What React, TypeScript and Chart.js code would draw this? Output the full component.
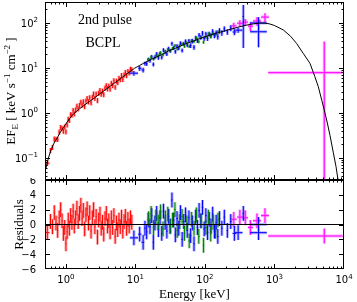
import React, { useEffect, useRef } from 'react';
import { Chart, registerables } from 'chart.js';
Chart.register(...registerables);

// ---------- axis ranges / tick labels ----------
const X_MIN = 0.5, X_MAX = 10000;
const Y_MIN = 0.0325, Y_MAX = 293;
const R_MIN = -6, R_MAX = 6;
const xMajor = [1, 10, 100, 1000, 10000];
const xMajorExp = ['0', '1', '2', '3', '4'];
const yMajor = [0.1, 1, 10, 100];
const yMajorExp = ['\u22121', '0', '1', '2'];
const resTicks = [-6, -4, -2, 0, 2, 4, 6];
const resTickLabels = ['\u22126', '\u22124', '\u22122', '0', '2', '4', '6'];

// ---------- model (BCPL) ----------
const modelE = [0.5, 0.53, 0.56, 0.6, 0.65, 0.7, 0.76, 0.8, 0.88, 0.96, 1.04, 1.12, 1.22, 1.32, 1.44, 1.57, 1.71, 1.86, 2.02, 2.2, 2.4, 2.61, 2.84, 3.09, 3.36, 3.65, 3.97, 4.32, 4.7, 5.11, 5.56, 6.05, 6.58, 7.16, 7.79, 8.48, 9.2, 9.7, 10.5, 11.5, 13, 15.5, 17.1, 20, 23.9, 30, 37.5, 50, 70, 100, 150, 200, 300, 400, 500, 620, 750, 860, 1000, 1340, 1700, 2085, 2600, 3240, 3800, 4270, 4800, 5330, 5800, 6290, 7000, 7670, 8280, 9000];
const modelF = [0.05, 0.07, 0.1, 0.14, 0.19, 0.24, 0.29, 0.34, 0.43, 0.52, 0.63, 0.74, 0.87, 0.99, 1.11, 1.24, 1.37, 1.51, 1.66, 1.82, 2.01, 2.21, 2.44, 2.69, 2.96, 3.25, 3.57, 3.93, 4.33, 4.76, 5.24, 5.77, 6.35, 6.98, 7.68, 8.45, 9.28, 9.86, 10.55, 11.4, 12.7, 14.6, 15.7, 17.5, 19.9, 24.0, 27.4, 33.4, 40.4, 49.6, 60, 68, 81, 90, 96, 100, 99, 95, 88, 70, 51, 35, 21, 12.7, 6.5, 3.84, 1.9, 1.0, 0.57, 0.317, 0.135, 0.065, 0.03, 0.013];

// ---------- red (soft X-ray) ----------
const redE = [0.54, 0.60, 0.64, 0.68, 0.72, 0.76, 0.80, 0.84, 0.88, 0.92, 0.96, 1.00, 1.04, 1.08, 1.12, 1.17, 1.22, 1.27, 1.32, 1.38, 1.44, 1.50, 1.57, 1.64, 1.71, 1.78, 1.86, 1.94, 2.02, 2.11, 2.20, 2.30, 2.40, 2.50, 2.61, 2.72, 2.84, 2.96, 3.09, 3.22, 3.36, 3.50, 3.65, 3.81, 3.97, 4.14, 4.32, 4.50, 4.70, 4.90, 5.11, 5.33, 5.56, 5.80, 6.05, 6.31, 6.58, 6.86, 7.16, 7.47, 7.79, 8.13, 8.48, 8.85];
const redF = [0.077, 0.147, 0.173, 0.266, 0.262, 0.26, 0.38, 0.479, 0.458, 0.397, 0.493, 0.384, 0.548, 0.733, 0.692, 0.925, 0.904, 1.148, 0.964, 1.173, 1.427, 1.241, 1.482, 1.753, 1.512, 1.796, 1.392, 1.847, 2.113, 1.785, 2.199, 1.695, 2.245, 2.659, 2.124, 2.652, 1.901, 2.760, 3.180, 2.637, 3.075, 2.576, 3.588, 4.075, 3.477, 3.983, 3.419, 4.602, 4.105, 5.248, 3.770, 5.13, 4.763, 5.929, 5.545, 6.837, 5.607, 6.996, 7.978, 6.844, 8.379, 7.841, 9.439, 9.195];
const redRes = [-1.1, 0.4, -0.3, 1.6, 0.2, -0.8, 0.9, 2.0, 0.5, -1.2, -0.4, -2.6, -1.0, 0.6, -0.5, 1.2, 0.3, 1.8, -0.2, 0.9, 2.2, 0.4, 1.5, 2.6, 0.8, 1.9, -0.6, 1.3, 2.1, 0.2, 1.6, -0.9, 0.9, 2.0, -0.3, 1.1, -1.7, 0.6, 1.4, -0.5, 0.3, -1.3, 0.8, 1.5, -0.2, 0.5, -1.0, 0.9, -0.4, 1.2, -1.6, 0.2, -0.7, 0.6, -0.3, 1.0, -0.9, 0.4, 1.1, -0.5, 0.7, -0.2, 0.9, 0.3];
const redRelErr = 0.13;
const redBinFrac = 0.018;
const redWide: Record<number, [number, number]> = { 0: [0.51, 0.58] };

// ---------- green ----------
const greenE = [15.5, 16.8, 18.2, 19.7, 21.3, 23.0, 24.9, 27.0, 29.2, 31.6, 34.2, 37.0, 40.0, 43.3, 46.9, 50.7, 54.9, 59.4, 64.3, 69.6, 75.3, 81.5, 88.2, 95.4, 103, 112, 121, 131, 142, 154];
const greenF = [15.53, 17.36, 15.88, 18.68, 18.74, 21.92, 19.61, 23.48, 25.91, 24.20, 27.14, 31.55, 26.58, 30.86, 34.27, 30.37, 35.76, 30.32, 40.66, 38.78, 46.59, 38.37, 47.84, 37.48, 48.69, 56.70, 49.01, 58.16, 54.57, 63.61];
const greenRes = [0.8, 1.5, -0.4, 1.0, 0.3, 1.7, -0.6, 0.9, 1.4, -0.3, 0.6, 2.0, -0.8, 0.4, 1.1, -1.2, 0.2, -2.2, 0.7, -0.5, 1.3, -1.6, 0.5, -2.8, -0.4, 1.0, -1.3, 0.3, -0.9, 0.6];
const greenRelErr = 0.08;
const greenBinFrac = 0.025;

// ---------- blue ----------
const blueE = [9.5, 11.5, 12.9, 13.7, 14.5, 15.3, 16.2, 17.1, 18.1, 19.1, 20.2, 21.4, 22.6, 23.9, 25.3, 26.8, 28.3, 30.0, 31.7, 33.5, 35.5, 37.5, 39.7, 42.0, 44.4, 47.0, 49.7, 52.6, 55.6, 58.8, 62.2, 65.8, 69.6, 73.6, 77.9, 82.4, 87.1, 92.2, 97.5, 103, 109, 115, 122, 129, 137, 145, 153, 162, 175, 190, 210, 235, 265, 300, 356, 590, 590];
const blueF = [7.68, 9.87, 9.04, 12.57, 12.37, 15.46, 14.60, 17.77, 12.07, 17.37, 20.50, 16.98, 20.99, 17.27, 24.92, 22.52, 20.54, 26.90, 24.25, 34.89, 28.25, 23.18, 30.79, 27.69, 35.63, 24.57, 34.87, 39.32, 32.28, 40.22, 31.56, 39.86, 28.85, 46.29, 41.01, 53.56, 48.21, 59.27, 45.67, 56.94, 45.53, 57.40, 53.79, 65.20, 52.26, 61.26, 49.85, 67.46, 60.48, 73.82, 63.38, 77.38, 63.14, 69.42, 140, 100, 64];
const blueRes = [-1.8, -1.3, -2.4, -0.5, -1.0, 0.6, -0.3, 1.2, -2.4, 0.2, 1.5, -0.7, 0.9, -1.2, 1.8, 0.3, -0.9, 1.1, -0.2, 3.3, 0.6, -1.4, 0.8, -0.5, 1.6, -2.0, 0.4, 1.3, -0.8, 0.9, -1.5, 0.2, -2.6, 1.0, -0.4, 1.9, 0.5, 2.3, -0.6, 1.2, -1.1, 0.7, -0.2, 1.4, -0.9, 0.3, -1.6, 0.8, -0.5, 1.0, -0.8, 0.4, -1.2, -1.1, 1.5, 0.0, -1.1];
const blueRelErr = [0.12, 0.12, 0.12, 0.10, 0.10, 0.10, 0.10, 0.10, 0.10, 0.10,
  0.10, 0.10, 0.10, 0.10, 0.10, 0.10, 0.10, 0.10, 0.10, 0.10,
  0.10, 0.10, 0.10, 0.10, 0.10, 0.10, 0.10, 0.10, 0.10, 0.10,
  0.12, 0.12, 0.12, 0.12, 0.12, 0.12, 0.12, 0.12, 0.12, 0.12,
  0.12, 0.12, 0.12, 0.12, 0.12, 0.12, 0.14, 0.14, 0.14, 0.14,
  0.14, 0.15, 0.15, 0.13, 0.8, 0.35, 0.55];
const blueBinFrac = 0.025;
const blueWide: Record<number, [number, number]> = { 0: [8.3, 10.9], 1: [10.9, 12.2], 2: [12.2, 13.4], 52: [250, 282], 53: [271, 347], 55: [445, 775], 56: [445, 775] };

// ---------- magenta (BGO) ----------
const magE = [260, 318, 380, 450, 560, 730, 5200];
const magF = [86.6, 99, 104.4, 85.1, 110.8, 135.3, 7.9];
const magRelErr = [0.17, 0.17, 0.17, 0.22, 0.22, 0.22, 3.9];
const magRes = [0.7, 1.0, 0.9, -0.4, 0.5, 1.2, -1.55];
const magLo = [240, 290, 350, 415, 490, 640, 813];
const magHi = [285, 350, 415, 490, 640, 830, 9570];

// ---------- helpers ----------
type Pt = { x: number; y: number | null };

function binsFrom(E: number[], frac: number, wide: Record<number, [number, number]>) {
  const lo = E.map((e, i) => (wide[i] ? wide[i][0] : e / (1 + frac)));
  const hi = E.map((e, i) => (wide[i] ? wide[i][1] : e * (1 + frac)));
  return { lo, hi };
}

function errBars(E: number[], Y: number[], err: (i: number) => number, lo: number[], hi: number[], logY: boolean): Pt[] {
  const out: Pt[] = [];
  for (let i = 0; i < E.length; i++) {
    const e = err(i);
    let y0 = Y[i] - e;
    if (logY && y0 <= 0) y0 = 1e-6;
    out.push({ x: E[i], y: y0 }, { x: E[i], y: Y[i] + e }, { x: E[i], y: null });
    out.push({ x: lo[i], y: Y[i] }, { x: hi[i], y: Y[i] }, { x: hi[i], y: null });
  }
  return out;
}

const redBins = binsFrom(redE, redBinFrac, redWide);
const greenBins = binsFrom(greenE, greenBinFrac, {});
const blueBins = binsFrom(blueE, blueBinFrac, blueWide);

const series = [
  { name: 'red', E: redE, F: redF, R: redRes, rel: (i: number) => redRelErr, lo: redBins.lo, hi: redBins.hi, color: '#ff0000', light: 'rgba(255,0,0,0.32)' },
  { name: 'green', E: greenE, F: greenF, R: greenRes, rel: (i: number) => greenRelErr, lo: greenBins.lo, hi: greenBins.hi, color: '#008000', light: 'rgba(0,128,0,0.3)' },
  { name: 'blue', E: blueE, F: blueF, R: blueRes, rel: (i: number) => blueRelErr[i], lo: blueBins.lo, hi: blueBins.hi, color: '#0000ff', light: 'rgba(0,0,255,0.3)' },
  { name: 'mag', E: magE, F: magF, R: magRes, rel: (i: number) => magRelErr[i], lo: magLo, hi: magHi, color: '#ff00ff', light: 'rgba(255,0,255,0.35)' },
];

function lineDs(data: Pt[], color: string, width: number) {
  return {
    data, borderColor: color, borderWidth: width, pointRadius: 0, pointHoverRadius: 0,
    fill: false, tension: 0, spanGaps: false, borderCapStyle: 'butt' as const,
  };
}

function logMinor(min: number, max: number) {
  const out: number[] = [];
  for (let d = Math.floor(Math.log10(min)); d <= Math.ceil(Math.log10(max)); d++) {
    for (let k = 2; k <= 9; k++) {
      const v = k * Math.pow(10, d);
      if (v > min && v < max) out.push(v);
    }
  }
  return out;
}

const TICK_FONT = '"DejaVu Sans", sans-serif';
const SERIF = '"Liberation Serif", "Times New Roman", serif';

function powLabel(ctx: CanvasRenderingContext2D, exp: string, x: number, y: number, align: 'right' | 'center') {
  ctx.font = `10px ${TICK_FONT}`;
  const w1 = ctx.measureText('10').width;
  ctx.font = `7px ${TICK_FONT}`;
  const w2 = ctx.measureText(exp).width;
  const total = w1 + w2;
  const x0 = align === 'right' ? x - total : x - total / 2;
  ctx.textAlign = 'left';
  ctx.textBaseline = 'alphabetic';
  ctx.font = `10px ${TICK_FONT}`;
  ctx.fillText('10', x0, y);
  ctx.font = `7px ${TICK_FONT}`;
  ctx.fillText(exp, x0 + w1, y - 4.5);
}

function richText(ctx: CanvasRenderingContext2D, parts: [string, number, number][], cx: number, cy: number, rotate: boolean) {
  let total = 0;
  for (const [t, s] of parts) { ctx.font = `${s}px ${SERIF}`; total += ctx.measureText(t).width; }
  ctx.save();
  ctx.translate(cx, cy);
  if (rotate) ctx.rotate(-Math.PI / 2);
  ctx.textAlign = 'left';
  ctx.textBaseline = 'alphabetic';
  let x = -total / 2;
  for (const [t, s, dy] of parts) {
    ctx.font = `${s}px ${SERIF}`;
    ctx.fillText(t, x, 4.5 + dy);
    x += ctx.measureText(t).width;
  }
  ctx.restore();
}

function drawFrameAndTicks(chart: any, yMajorVals: number[], yMinorVals: number[]) {
  const { ctx, chartArea: a, scales } = chart;
  const xs = scales.x, ys = scales.y;
  ctx.save();
  ctx.strokeStyle = '#000';
  ctx.lineWidth = 1;
  ctx.strokeRect(a.left + 0.5, a.top + 0.5, a.right - a.left - 1, a.bottom - a.top - 1);
  ctx.beginPath();
  const xMinor = logMinor(X_MIN, X_MAX);
  const tickX = (v: number, len: number) => {
    const p = Math.round(xs.getPixelForValue(v)) + 0.5;
    if (p <= a.left + 1 || p >= a.right - 1) return;
    ctx.moveTo(p, a.bottom); ctx.lineTo(p, a.bottom - len);
    ctx.moveTo(p, a.top); ctx.lineTo(p, a.top + len);
  };
  const tickY = (v: number, len: number) => {
    const p = Math.round(ys.getPixelForValue(v)) + 0.5;
    if (p <= a.top + 1 || p >= a.bottom - 1) return;
    ctx.moveTo(a.left, p); ctx.lineTo(a.left + len, p);
    ctx.moveTo(a.right, p); ctx.lineTo(a.right - len, p);
  };
  xMajor.forEach(v => tickX(v, 5));
  xMinor.forEach(v => tickX(v, 2.5));
  yMajorVals.forEach(v => tickY(v, 5));
  yMinorVals.forEach(v => tickY(v, 2.5));
  ctx.stroke();
  ctx.restore();
}

const topPlugin = {
  id: 'topAxes',
  afterDraw(chart: any) {
    const { ctx, chartArea: a, scales } = chart;
    drawFrameAndTicks(chart, yMajor, logMinor(Y_MIN, Y_MAX));
    ctx.save();
    ctx.fillStyle = '#000';
    yMajor.forEach((v, i) => {
      const p = scales.y.getPixelForValue(v);
      powLabel(ctx, yMajorExp[i], a.left - 7, p + 3.6, 'right');
    });
    richText(ctx, [['EF', 13, 0], ['E', 9, 3], [' [ keV s', 13, 0], ['\u22121', 9, -5], [' cm', 13, 0], ['\u22122', 9, -5], [' ]', 13, 0]], 10, (a.top + a.bottom) / 2, true);
    ctx.font = `14px ${SERIF}`;
    ctx.textAlign = 'center';
    ctx.textBaseline = 'middle';
    ctx.fillText('2nd pulse', 105, 20);
    ctx.fillText('BCPL', 103, 43);
    ctx.restore();
  },
};

const bottomPlugin = {
  id: 'bottomAxes',
  afterDraw(chart: any) {
    const { ctx, chartArea: a, scales } = chart;
    drawFrameAndTicks(chart, resTicks, []);
    ctx.save();
    ctx.fillStyle = '#000';
    ctx.font = `10px ${TICK_FONT}`;
    ctx.textAlign = 'right';
    ctx.textBaseline = 'alphabetic';
    resTicks.forEach((v, i) => {
      const p = scales.y.getPixelForValue(v);
      ctx.font = `10px ${TICK_FONT}`;
      ctx.textAlign = 'right';
      ctx.fillText(resTickLabels[i], a.left - 9, p + 3.6);
    });
    xMajor.forEach((v, i) => {
      const p = scales.x.getPixelForValue(v);
      powLabel(ctx, xMajorExp[i], p, a.bottom + 14, 'center');
    });
    richText(ctx, [['Energy [keV]', 13, 0]], (a.left + a.right) / 2, a.bottom + 24, false);
    richText(ctx, [['Residuals', 13, 0]], 18, (a.top + a.bottom) / 2, true);
    ctx.restore();
  },
};

function topDatasets() {
  const ds: any[] = [];
  ds.push(lineDs(modelE.map((e, i) => ({ x: e, y: modelF[i] })), '#000000', 1));
  for (const s of series) {
    ds.push(lineDs(errBars(s.E, s.F, i => s.rel(i) * s.F[i], s.lo, s.hi, true), s.color, 1));
  }
  for (const s of series) {
    ds.push(lineDs(errBars(s.E, s.F, i => s.rel(i) * s.F[i], s.lo, s.hi, true), s.light, 3));
  }
  return ds;
}

function bottomDatasets() {
  const ds: any[] = [];
  ds.push(lineDs([{ x: X_MIN, y: 0 }, { x: X_MAX, y: 0 }], '#000000', 1));
  for (const s of series) {
    ds.push(lineDs(errBars(s.E, s.R, () => 1, s.lo, s.hi, false), s.color, 1));
  }
  for (const s of series) {
    ds.push(lineDs(errBars(s.E, s.R, () => 1, s.lo, s.hi, false), s.light, 3));
  }
  return ds;
}

const commonOpts = {
  responsive: false,
  animation: false as const,
  devicePixelRatio: 1,
  events: [] as any[],
  plugins: { legend: { display: false }, tooltip: { enabled: false }, title: { display: false } },
};

export default function App() {
  const refA = useRef<HTMLCanvasElement>(null);
  const refB = useRef<HTMLCanvasElement>(null);
  useEffect(() => {
    const cA = new Chart(refA.current as HTMLCanvasElement, {
      type: 'line',
      data: { datasets: topDatasets() },
      options: {
        ...commonOpts,
        layout: { padding: { left: 45, right: 13, top: 2, bottom: 1 } },
        scales: {
          x: { type: 'logarithmic', min: X_MIN, max: X_MAX, display: false },
          y: { type: 'logarithmic', min: Y_MIN, max: Y_MAX, display: false },
        },
      } as any,
      plugins: [topPlugin],
    });
    const cB = new Chart(refB.current as HTMLCanvasElement, {
      type: 'line',
      data: { datasets: bottomDatasets() },
      options: {
        ...commonOpts,
        layout: { padding: { left: 45, right: 13, top: 2, bottom: 33 } },
        scales: {
          x: { type: 'logarithmic', min: X_MIN, max: X_MAX, display: false },
          y: { type: 'linear', min: R_MIN, max: R_MAX, display: false },
        },
      } as any,
      plugins: [bottomPlugin],
    });
    return () => { cA.destroy(); cB.destroy(); };
  }, []);
  return (
    <div style={{ position: 'absolute', left: 0, top: 0, width: 357, height: 302, background: '#fff', overflow: 'hidden' }}>
      <canvas ref={refA} width={357} height={181} style={{ position: 'absolute', left: 0, top: 0, width: 357, height: 181 }} />
      <canvas ref={refB} width={357} height={124} style={{ position: 'absolute', left: 0, top: 178, width: 357, height: 124 }} />
    </div>
  );
}
